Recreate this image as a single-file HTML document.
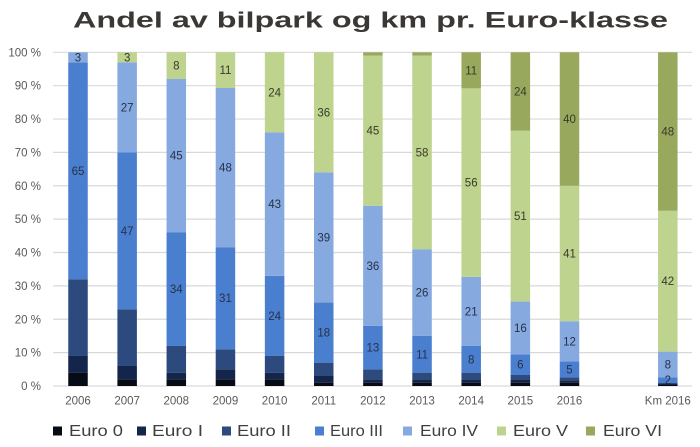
<!DOCTYPE html>
<html><head><meta charset="utf-8"><style>
html,body{margin:0;padding:0;background:#fff;}
svg{display:block;}
</style></head><body>
<svg width="700" height="447" viewBox="0 0 700 447" xmlns="http://www.w3.org/2000/svg" font-family="Liberation Sans, sans-serif">
<rect width="700" height="447" fill="#fff"/>
<text x="73" y="27.5" font-size="22.5" font-weight="bold" fill="#3b3734" textLength="595" lengthAdjust="spacingAndGlyphs">Andel av bilpark og km pr. Euro-klasse</text>
<g stroke="#d9d9d9" stroke-width="1.2">
<line x1="53" x2="692" y1="386" y2="386"/>
<line x1="53" x2="692" y1="352.63" y2="352.63"/>
<line x1="53" x2="692" y1="319.26" y2="319.26"/>
<line x1="53" x2="692" y1="285.89" y2="285.89"/>
<line x1="53" x2="692" y1="252.52" y2="252.52"/>
<line x1="53" x2="692" y1="219.15" y2="219.15"/>
<line x1="53" x2="692" y1="185.78" y2="185.78"/>
<line x1="53" x2="692" y1="152.41" y2="152.41"/>
<line x1="53" x2="692" y1="119.04" y2="119.04"/>
<line x1="53" x2="692" y1="85.67" y2="85.67"/>
<line x1="53" x2="692" y1="52.3" y2="52.3"/>
</g>
<g font-size="11.5" fill="#595959" text-anchor="end">
<text x="41" y="390">0 %</text>
<text x="41" y="356.6">10 %</text>
<text x="41" y="323.3">20 %</text>
<text x="41" y="289.9">30 %</text>
<text x="41" y="256.5">40 %</text>
<text x="41" y="223.2">50 %</text>
<text x="41" y="189.8">60 %</text>
<text x="41" y="156.4">70 %</text>
<text x="41" y="123">80 %</text>
<text x="41" y="89.7">90 %</text>
<text x="41" y="56.3">100 %</text>
</g>
<g>
<rect x="68.25" y="372.65" width="19.5" height="13.35" fill="#070b16"/>
<rect x="68.25" y="355.97" width="19.5" height="16.69" fill="#13254a"/>
<rect x="68.25" y="279.22" width="19.5" height="76.75" fill="#2c4a7e"/>
<rect x="68.25" y="62.31" width="19.5" height="216.91" fill="#4a7ecf"/>
<rect x="68.25" y="52.3" width="19.5" height="10.01" fill="#86a9df"/>
<rect x="117.4" y="379.33" width="19.5" height="6.67" fill="#070b16"/>
<rect x="117.4" y="365.98" width="19.5" height="13.35" fill="#13254a"/>
<rect x="117.4" y="309.25" width="19.5" height="56.73" fill="#2c4a7e"/>
<rect x="117.4" y="152.41" width="19.5" height="156.84" fill="#4a7ecf"/>
<rect x="117.4" y="62.31" width="19.5" height="90.1" fill="#86a9df"/>
<rect x="117.4" y="52.3" width="19.5" height="10.01" fill="#bdd38e"/>
<rect x="166.55" y="379.33" width="19.5" height="6.67" fill="#070b16"/>
<rect x="166.55" y="372.65" width="19.5" height="6.68" fill="#13254a"/>
<rect x="166.55" y="345.96" width="19.5" height="26.69" fill="#2c4a7e"/>
<rect x="166.55" y="232.5" width="19.5" height="113.46" fill="#4a7ecf"/>
<rect x="166.55" y="79.0" width="19.5" height="153.5" fill="#86a9df"/>
<rect x="166.55" y="52.3" width="19.5" height="26.7" fill="#bdd38e"/>
<rect x="215.7" y="379.33" width="19.5" height="6.67" fill="#070b16"/>
<rect x="215.7" y="369.32" width="19.5" height="10.01" fill="#13254a"/>
<rect x="215.7" y="349.29" width="19.5" height="20.03" fill="#2c4a7e"/>
<rect x="215.7" y="247.18" width="19.5" height="102.11" fill="#4a7ecf"/>
<rect x="215.7" y="88.0" width="19.5" height="159.18" fill="#86a9df"/>
<rect x="215.7" y="52.3" width="19.5" height="35.7" fill="#bdd38e"/>
<rect x="264.85" y="379.33" width="19.5" height="6.67" fill="#070b16"/>
<rect x="264.85" y="372.65" width="19.5" height="6.68" fill="#13254a"/>
<rect x="264.85" y="355.97" width="19.5" height="16.68" fill="#2c4a7e"/>
<rect x="264.85" y="275.88" width="19.5" height="80.09" fill="#4a7ecf"/>
<rect x="264.85" y="132.39" width="19.5" height="143.49" fill="#86a9df"/>
<rect x="264.85" y="52.3" width="19.5" height="80.09" fill="#bdd38e"/>
<rect x="314" y="382.66" width="19.5" height="3.34" fill="#070b16"/>
<rect x="314" y="375.99" width="19.5" height="6.67" fill="#13254a"/>
<rect x="314" y="362.64" width="19.5" height="13.35" fill="#2c4a7e"/>
<rect x="314" y="302.58" width="19.5" height="60.06" fill="#4a7ecf"/>
<rect x="314" y="172.43" width="19.5" height="130.15" fill="#86a9df"/>
<rect x="314" y="52.3" width="19.5" height="120.13" fill="#bdd38e"/>
<rect x="363.15" y="382.66" width="19.5" height="3.34" fill="#070b16"/>
<rect x="363.15" y="379.33" width="19.5" height="3.33" fill="#13254a"/>
<rect x="363.15" y="369.32" width="19.5" height="10.01" fill="#2c4a7e"/>
<rect x="363.15" y="325.93" width="19.5" height="43.39" fill="#4a7ecf"/>
<rect x="363.15" y="205.8" width="19.5" height="120.13" fill="#86a9df"/>
<rect x="363.15" y="55.64" width="19.5" height="150.16" fill="#bdd38e"/>
<rect x="363.15" y="52.3" width="19.5" height="3.34" fill="#98a95d"/>
<rect x="412.3" y="382.66" width="19.5" height="3.34" fill="#070b16"/>
<rect x="412.3" y="379.33" width="19.5" height="3.33" fill="#13254a"/>
<rect x="412.3" y="372.65" width="19.5" height="6.68" fill="#2c4a7e"/>
<rect x="412.3" y="335.95" width="19.5" height="36.7" fill="#4a7ecf"/>
<rect x="412.3" y="249.18" width="19.5" height="86.77" fill="#86a9df"/>
<rect x="412.3" y="55.64" width="19.5" height="193.54" fill="#bdd38e"/>
<rect x="412.3" y="52.3" width="19.5" height="3.34" fill="#98a95d"/>
<rect x="461.45" y="382.66" width="19.5" height="3.34" fill="#070b16"/>
<rect x="461.45" y="379.33" width="19.5" height="3.33" fill="#13254a"/>
<rect x="461.45" y="372.65" width="19.5" height="6.68" fill="#2c4a7e"/>
<rect x="461.45" y="345.96" width="19.5" height="26.69" fill="#4a7ecf"/>
<rect x="461.45" y="276.88" width="19.5" height="69.08" fill="#86a9df"/>
<rect x="461.45" y="88.34" width="19.5" height="188.54" fill="#bdd38e"/>
<rect x="461.45" y="52.3" width="19.5" height="36.04" fill="#98a95d"/>
<rect x="510.6" y="382.66" width="19.5" height="3.34" fill="#070b16"/>
<rect x="510.6" y="379.33" width="19.5" height="3.33" fill="#13254a"/>
<rect x="510.6" y="374.99" width="19.5" height="4.34" fill="#2c4a7e"/>
<rect x="510.6" y="354.3" width="19.5" height="20.69" fill="#4a7ecf"/>
<rect x="510.6" y="301.57" width="19.5" height="52.73" fill="#86a9df"/>
<rect x="510.6" y="130.72" width="19.5" height="170.85" fill="#bdd38e"/>
<rect x="510.6" y="52.3" width="19.5" height="78.42" fill="#98a95d"/>
<rect x="559.75" y="382.66" width="19.5" height="3.34" fill="#070b16"/>
<rect x="559.75" y="380.33" width="19.5" height="2.33" fill="#13254a"/>
<rect x="559.75" y="377.32" width="19.5" height="3.01" fill="#2c4a7e"/>
<rect x="559.75" y="361.31" width="19.5" height="16.01" fill="#4a7ecf"/>
<rect x="559.75" y="321.26" width="19.5" height="40.05" fill="#86a9df"/>
<rect x="559.75" y="185.78" width="19.5" height="135.48" fill="#bdd38e"/>
<rect x="559.75" y="52.3" width="19.5" height="133.48" fill="#98a95d"/>
<rect x="658.05" y="385" width="19.5" height="1" fill="#070b16"/>
<rect x="658.05" y="384" width="19.5" height="1" fill="#13254a"/>
<rect x="658.05" y="382.66" width="19.5" height="1.34" fill="#2c4a7e"/>
<rect x="658.05" y="377.32" width="19.5" height="5.34" fill="#4a7ecf"/>
<rect x="658.05" y="351.63" width="19.5" height="25.69" fill="#86a9df"/>
<rect x="658.05" y="210.81" width="19.5" height="140.82" fill="#bdd38e"/>
<rect x="658.05" y="52.3" width="19.5" height="158.51" fill="#98a95d"/>
</g>
<g font-size="11.5" text-anchor="middle" fill="#26324a">
<text x="78" y="174.8">65</text>
<text x="78" y="61.3">3</text>
<text x="127.15" y="234.8">47</text>
<text x="127.15" y="111.4">27</text>
<text x="176.3" y="293.2">34</text>
<text x="176.3" y="159.7">45</text>
<text x="225.45" y="302.2">31</text>
<text x="225.45" y="171.6">48</text>
<text x="274.6" y="319.9">24</text>
<text x="274.6" y="208.1">43</text>
<text x="323.75" y="336.6">18</text>
<text x="323.75" y="241.5">39</text>
<text x="372.9" y="351.6">13</text>
<text x="372.9" y="269.9">36</text>
<text x="422.05" y="358.3">11</text>
<text x="422.05" y="296.6">26</text>
<text x="471.2" y="363.3">8</text>
<text x="471.2" y="315.4">21</text>
<text x="520.35" y="368.6">6</text>
<text x="520.35" y="331.9">16</text>
<text x="569.5" y="373.3">5</text>
<text x="569.5" y="345.3">12</text>
<text x="667.8" y="384">2</text>
<text x="667.8" y="368.5">8</text>
</g>
<g font-size="11.5" text-anchor="middle" fill="#3a3a2a">
<text x="127.15" y="61.3">3</text>
<text x="176.3" y="69.7">8</text>
<text x="225.45" y="74.2">11</text>
<text x="274.6" y="96.3">24</text>
<text x="323.75" y="116.4">36</text>
<text x="372.9" y="134.7">45</text>
<text x="422.05" y="156.4">58</text>
<text x="471.2" y="186.6">56</text>
<text x="471.2" y="74.3">11</text>
<text x="520.35" y="220.2">51</text>
<text x="520.35" y="95.5">24</text>
<text x="569.5" y="257.5">41</text>
<text x="569.5" y="123">40</text>
<text x="667.8" y="285.2">42</text>
<text x="667.8" y="135.6">48</text>
</g>
<g font-size="11.5" fill="#595959" text-anchor="middle">
<text x="78" y="404.5">2006</text>
<text x="127.15" y="404.5">2007</text>
<text x="176.3" y="404.5">2008</text>
<text x="225.45" y="404.5">2009</text>
<text x="274.6" y="404.5">2010</text>
<text x="323.75" y="404.5">2011</text>
<text x="372.9" y="404.5">2012</text>
<text x="422.05" y="404.5">2013</text>
<text x="471.2" y="404.5">2014</text>
<text x="520.35" y="404.5">2015</text>
<text x="569.5" y="404.5">2016</text>
<text x="667.8" y="404.5">Km 2016</text>
</g>
<g font-size="16" fill="#404040">
<rect x="53" y="426.5" width="9" height="9" fill="#070b16"/>
<text x="69" y="436" textLength="54" lengthAdjust="spacingAndGlyphs">Euro 0</text>
<rect x="137" y="426.5" width="9" height="9" fill="#13254a"/>
<text x="152" y="436" textLength="51" lengthAdjust="spacingAndGlyphs">Euro I</text>
<rect x="222" y="426.5" width="9" height="9" fill="#2c4a7e"/>
<text x="237" y="436" textLength="54" lengthAdjust="spacingAndGlyphs">Euro II</text>
<rect x="315" y="426.5" width="9" height="9" fill="#4a7ecf"/>
<text x="330" y="436" textLength="53" lengthAdjust="spacingAndGlyphs">Euro III</text>
<rect x="403" y="426.5" width="9" height="9" fill="#86a9df"/>
<text x="420" y="436" textLength="58" lengthAdjust="spacingAndGlyphs">Euro IV</text>
<rect x="497" y="426.5" width="9" height="9" fill="#bdd38e"/>
<text x="513" y="436" textLength="55" lengthAdjust="spacingAndGlyphs">Euro V</text>
<rect x="586" y="426.5" width="9" height="9" fill="#98a95d"/>
<text x="603" y="436" textLength="59" lengthAdjust="spacingAndGlyphs">Euro VI</text>
</g>
</svg>
</body></html>
